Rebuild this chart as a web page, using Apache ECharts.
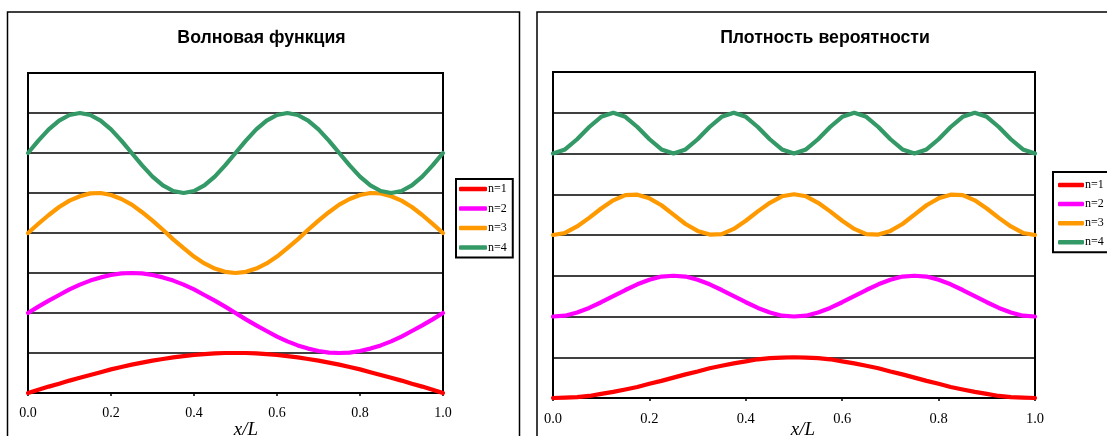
<!DOCTYPE html>
<html>
<head>
<meta charset="utf-8">
<script src="https://cdn.jsdelivr.net/npm/echarts@6/dist/echarts.min.js"></script>
<style>html,body{margin:0;padding:0;background:#fff}#c{width:1107px;height:436px}</style>
</head>
<body>
<div id="c"></div>
<script>
// x positions (x/L)
var xs = [0,0.025,0.05,0.075,0.1,0.125,0.15,0.175,0.2,0.225,0.25,0.275,0.3,0.325,0.35,0.375,0.4,0.425,0.45,0.475,0.5,0.525,0.55,0.575,0.6,0.625,0.65,0.675,0.7,0.725,0.75,0.775,0.8,0.825,0.85,0.875,0.9,0.925,0.95,0.975,1];
var xTicks = ['0.0','0.2','0.4','0.6','0.8','1.0'];
var seriesNames = ['n=1','n=2','n=3','n=4'];
var seriesColors = ['#FF0000','#FF00FF','#FF9900','#339966'];

// Left panel: wave function (plotted, offset levels 0,2,4,6)
var wave1 = [0.00,0.08,0.16,0.23,0.31,0.38,0.45,0.52,0.59,0.65,0.71,0.76,0.81,0.85,0.89,0.92,0.95,0.97,0.99,1.00,1.00,1.00,0.99,0.97,0.95,0.92,0.89,0.85,0.81,0.76,0.71,0.65,0.59,0.52,0.45,0.38,0.31,0.23,0.16,0.08,0.00];
var wave2 = [2.00,2.16,2.31,2.45,2.59,2.71,2.81,2.89,2.95,2.99,3.00,2.99,2.95,2.89,2.81,2.71,2.59,2.45,2.31,2.16,2.00,1.84,1.69,1.55,1.41,1.29,1.19,1.11,1.05,1.01,1.00,1.01,1.05,1.11,1.19,1.29,1.41,1.55,1.69,1.84,2.00];
var wave3 = [4.00,4.23,4.45,4.65,4.81,4.92,4.99,5.00,4.95,4.85,4.71,4.52,4.31,4.08,3.84,3.62,3.41,3.24,3.11,3.03,3.00,3.03,3.11,3.24,3.41,3.62,3.84,4.08,4.31,4.52,4.71,4.85,4.95,5.00,4.99,4.92,4.81,4.65,4.45,4.23,4.00];
var wave4 = [6.00,6.31,6.59,6.81,6.95,7.00,6.95,6.81,6.59,6.31,6.00,5.69,5.41,5.19,5.05,5.00,5.05,5.19,5.41,5.69,6.00,6.31,6.59,6.81,6.95,7.00,6.95,6.81,6.59,6.31,6.00,5.69,5.41,5.19,5.05,5.00,5.05,5.19,5.41,5.69,6.00];

// Right panel: probability density (plotted, offset levels 0,2,4,6)
var dens1 = [0.00,0.01,0.02,0.05,0.10,0.15,0.21,0.27,0.35,0.42,0.50,0.58,0.65,0.73,0.79,0.85,0.90,0.95,0.98,0.99,1.00,0.99,0.98,0.95,0.90,0.85,0.79,0.73,0.65,0.58,0.50,0.42,0.35,0.27,0.21,0.15,0.10,0.05,0.02,0.01,0.00];
var dens2 = [2.00,2.02,2.10,2.21,2.35,2.50,2.65,2.79,2.90,2.98,3.00,2.98,2.90,2.79,2.65,2.50,2.35,2.21,2.10,2.02,2.00,2.02,2.10,2.21,2.35,2.50,2.65,2.79,2.90,2.98,3.00,2.98,2.90,2.79,2.65,2.50,2.35,2.21,2.10,2.02,2.00];
var dens3 = [4.00,4.05,4.21,4.42,4.65,4.85,4.98,4.99,4.90,4.73,4.50,4.27,4.10,4.01,4.02,4.15,4.35,4.58,4.79,4.95,5.00,4.95,4.79,4.58,4.35,4.15,4.02,4.01,4.10,4.27,4.50,4.73,4.90,4.99,4.98,4.85,4.65,4.42,4.21,4.05,4.00];
var dens4 = [6.00,6.10,6.35,6.65,6.90,7.00,6.90,6.65,6.35,6.10,6.00,6.10,6.35,6.65,6.90,7.00,6.90,6.65,6.35,6.10,6.00,6.10,6.35,6.65,6.90,7.00,6.90,6.65,6.35,6.10,6.00,6.10,6.35,6.65,6.90,7.00,6.90,6.65,6.35,6.10,6.00];

var titles = ['Волновая функция','Плотность вероятности'];
var axisName = 'x/L';

function pairs(arr){ return xs.map(function(x,i){ return [x, arr[i]]; }); }

var waveSets = [wave1,wave2,wave3,wave4];
var densSets = [dens1,dens2,dens3,dens4];

var series = [];
waveSets.forEach(function(arr,i){
  series.push({type:'line', name:seriesNames[i], xAxisIndex:0, yAxisIndex:0, data:pairs(arr),
    symbol:'none', clip:false, smooth:false, color:seriesColors[i],
    lineStyle:{width:4.2, color:seriesColors[i], cap:'round', join:'round'}});
});
densSets.forEach(function(arr,i){
  series.push({type:'line', name:seriesNames[i], xAxisIndex:1, yAxisIndex:1, data:pairs(arr),
    symbol:'none', clip:false, smooth:false, color:seriesColors[i],
    lineStyle:{width:4.2, color:seriesColors[i], cap:'round', join:'round'}});
});

function xAxisDef(gi, fs, mg){
  return {type:'value', gridIndex:gi, min:0, max:1, interval:0.2,
    axisLine:{show:true, onZero:false, lineStyle:{color:'#000', width:2}},
    axisTick:{show:true, length:3, inside:false, lineStyle:{color:'#000', width:1.5}},
    axisLabel:{margin:mg, color:'#000', fontFamily:'Liberation Serif', fontSize:fs,
      formatter:function(v){ var k=Math.round(v*5); return xTicks[k]; }},
    splitLine:{show:false}};
}
function yAxisDef(gi){
  return {type:'value', gridIndex:gi, min:0, max:8, interval:1,
    axisLine:{show:true, lineStyle:{color:'#000', width:2}},
    axisTick:{show:false}, axisLabel:{show:false},
    splitLine:{show:true, lineStyle:{color:'#000', width:1.5}}};
}

var legendText = {fontFamily:'Liberation Serif', fontSize:12, color:'#000', padding:[0,0,0,-4]};

var option = {
  animation:false,
  backgroundColor:'#fff',
  grid:[
    {left:28, top:73, width:415, height:320, show:true, borderColor:'#000', borderWidth:2, backgroundColor:'#fff'},
    {left:553, top:72, width:482, height:326, show:true, borderColor:'#000', borderWidth:2, backgroundColor:'#fff'}
  ],
  xAxis:[xAxisDef(0,14,13), xAxisDef(1,14.5,13.5)],
  yAxis:[yAxisDef(0), yAxisDef(1)],
  legend:[
    {orient:'vertical', left:456, top:179, padding:[4,6,4,3], itemGap:7.5, itemWidth:28, itemHeight:4.5,
      icon:'roundRect', borderColor:'#000', borderWidth:2, backgroundColor:'#fff', textStyle:legendText,
      data:seriesNames, selectedMode:false},
    {orient:'vertical', left:1053, top:172, padding:[7,6,4,5], itemGap:7.1, itemWidth:26, itemHeight:4.5,
      icon:'roundRect', borderColor:'#000', borderWidth:2, backgroundColor:'#fff', textStyle:legendText,
      data:seriesNames, selectedMode:false}
  ],
  graphic:[
    {type:'rect', z:-10, silent:true, shape:{x:7.5, y:12, width:512, height:450}, style:{fill:'none', stroke:'#000', lineWidth:1.5}},
    {type:'rect', z:-10, silent:true, shape:{x:537, y:12, width:600, height:450}, style:{fill:'none', stroke:'#000', lineWidth:1.5}},
    {type:'text', silent:true, style:{text:titles[0], x:261.5, y:38, textAlign:'center', textVerticalAlign:'middle', font:'bold 17.7px "Liberation Sans"', fill:'#000'}},
    {type:'text', silent:true, style:{text:titles[1], x:825, y:38, textAlign:'center', textVerticalAlign:'middle', font:'bold 17.7px "Liberation Sans"', fill:'#000'}},
    {type:'text', silent:true, style:{text:axisName, x:246, y:430, textAlign:'center', textVerticalAlign:'middle', font:'italic 19px "Liberation Serif"', fill:'#000'}},
    {type:'text', silent:true, style:{text:axisName, x:803, y:430, textAlign:'center', textVerticalAlign:'middle', font:'italic 19px "Liberation Serif"', fill:'#000'}}
  ],
  series:series
};

var chart = echarts.init(document.getElementById('c'), null, {renderer:'canvas'});
chart.setOption(option);
</script>
</body>
</html>
